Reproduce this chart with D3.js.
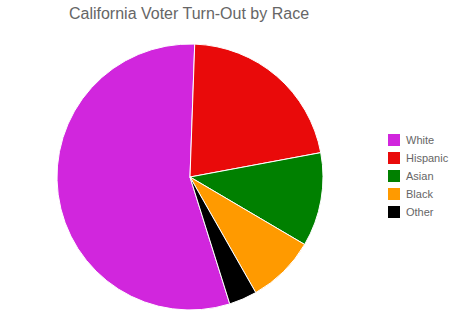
<!DOCTYPE html>
<html>
<head>
<meta charset="utf-8">
<script src="https://cdn.jsdelivr.net/npm/d3@7"></script>
<style>
  body { margin: 0; background: #fff; }
  svg { display: block; font-family: "Liberation Sans", Arial, sans-serif; }
</style>
</head>
<body>
<div id="chart"></div>
<script>
// Chart data
const races = ["White", "Hispanic", "Asian", "Black", "Other"];
const turnout = [55.4, 21.5, 11.4, 8.3, 3.4];
const colors = ["#d126dd", "#e90a0a", "#008000", "#ff9a00", "#000000"];

const width = 450, height = 320;
const cx = 190, cy = 177, radius = 133;

const svg = d3.select("#chart").append("svg")
    .attr("width", width)
    .attr("height", height);

// Title
svg.append("text")
    .attr("x", 189)
    .attr("y", 19)
    .attr("text-anchor", "middle")
    .attr("fill", "#666")
    .style("font-size", "16px")
    .text("California Voter Turn-Out by Race");

// Pie
const startAngle = 162.6 * Math.PI / 180;
const pie = d3.pie()
    .sort(null)
    .startAngle(startAngle)
    .endAngle(startAngle + 2 * Math.PI);

const arc = d3.arc().innerRadius(0).outerRadius(radius);

const color = d3.scaleOrdinal().domain(races).range(colors);

const data = races.map((r, i) => ({ race: r, value: turnout[i] }));

svg.append("g")
    .attr("transform", `translate(${cx},${cy})`)
  .selectAll("path")
  .data(pie.value(d => d.value)(data))
  .join("path")
    .attr("d", arc)
    .attr("fill", d => color(d.data.race))
    .attr("stroke", "#fff")
    .attr("stroke-width", 1);

// Legend
const legend = svg.append("g")
    .attr("transform", "translate(388,134)");

const rows = legend.selectAll("g")
  .data(races)
  .join("g")
    .attr("transform", (d, i) => `translate(0,${i * 18})`);

rows.append("rect")
    .attr("width", 12)
    .attr("height", 12)
    .attr("fill", d => color(d));

rows.append("text")
    .attr("x", 18)
    .attr("y", 10)
    .attr("fill", "#666")
    .style("font-size", "11px")
    .text(d => d);
</script>
</body>
</html>
